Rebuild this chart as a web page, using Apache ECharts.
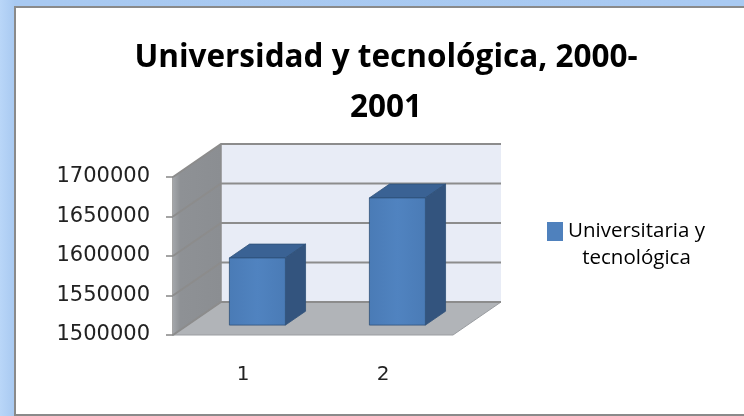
<!DOCTYPE html>
<html>
<head>
<meta charset="utf-8">
<script src="https://cdn.jsdelivr.net/npm/echarts@6/dist/echarts.min.js"></script>
<style>html,body{margin:0;padding:0;background:#fff;}#c{width:744px;height:416px;}</style>
</head>
<body>
<div id="c"></div>
<script>
const categories = ['1', '2'];
const seriesName = 'Universitaria y tecnológica';
const values = [1585000, 1661000];
const yMin = 1500000, yMax = 1700000, yStep = 50000;
const titleText = 'Universidad y tecnológica, 2000-\n2001';

const FONT = 'Open Sans';
const NUMFONT = 'DejaVu Sans';
const DEPTH = [48, -33];
const T1 = 0.3, T2 = 0.72;

const chart = echarts.init(document.getElementById('c'), null, {renderer: 'canvas'});

function renderBack(params, api) {
  const cs = params.coordSys;
  const dx = DEPTH[0], dy = DEPTH[1];
  const x0 = cs.x, x1 = cs.x + cs.width;
  const yb = api.coord([0, yMin])[1], yt = api.coord([0, yMax])[1];
  const children = [];
  children.push({type: 'polygon', shape: {points: [[x0 + dx, yt + dy], [x1 + dx, yt + dy], [x1 + dx, yb + dy], [x0 + dx, yb + dy]]},
    style: {fill: '#e8ecf6', stroke: null}});
  children.push({type: 'polygon', shape: {points: [[x0, yt], [x0 + dx, yt + dy], [x0 + dx, yb + dy], [x0, yb]]},
    style: {fill: new echarts.graphic.LinearGradient(0, 0, 1, 0, [{offset: 0, color: '#a3a6aa'}, {offset: 0.15, color: '#8e9195'}, {offset: 1, color: '#8b8e92'}]), stroke: null}});
  children.push({type: 'polygon', shape: {points: [[x0, yb], [x1, yb], [x1 + dx, yb + dy], [x0 + dx, yb + dy]]},
    style: {fill: '#b1b4b8', stroke: '#9a9da1', lineWidth: 1}});
  for (let v = yMin; v <= yMax; v += yStep) {
    const y = api.coord([0, v])[1];
    children.push({type: 'polyline', shape: {points: [[x0, y], [x0 + dx, y + dy], [x1 + dx, y + dy]]},
      style: {stroke: '#8c8c8c', lineWidth: 2, fill: null}});
  }
  children.push({type: 'line', shape: {x1: x0 + dx, y1: yt + dy, x2: x0 + dx, y2: yb + dy}, style: {stroke: '#8c8c8c', lineWidth: 1.5}});
  return {type: 'group', children: children};
}

function renderBar(params, api) {
  const idx = api.value(0), v = api.value(1);
  const top = api.coord([idx, v]);
  const bot = api.coord([idx, yMin]);
  const bw = api.size([1, 0])[0] * 0.4;
  const ox = DEPTH[0] * T1, oy = DEPTH[1] * T1;
  const ddx = DEPTH[0] * (T2 - T1), ddy = DEPTH[1] * (T2 - T1);
  const xl = top[0] - bw / 2 + ox, xr = top[0] + bw / 2 + ox;
  const yt = top[1] + oy, yb = bot[1] + oy;
  const edge = '#2e5079';
  return {type: 'group', children: [
    {type: 'polygon', shape: {points: [[xl, yt], [xr, yt], [xr + ddx, yt + ddy], [xl + ddx, yt + ddy]]},
      style: {fill: '#3a6294', stroke: edge, lineWidth: 0.8}},
    {type: 'polygon', shape: {points: [[xr, yt], [xr + ddx, yt + ddy], [xr + ddx, yb + ddy], [xr, yb]]},
      style: {fill: '#33547e', stroke: edge, lineWidth: 0.8}},
    {type: 'rect', shape: {x: xl, y: yt, width: bw, height: yb - yt},
      style: {fill: new echarts.graphic.LinearGradient(0, 0, 1, 0, [{offset: 0, color: '#4a7bb6'}, {offset: 0.5, color: '#5083c0'}, {offset: 1, color: '#4a7bb6'}]), stroke: edge, lineWidth: 0.8}}
  ]};
}

chart.setOption({
  animation: false,
  backgroundColor: '#ffffff',
  graphic: [
    {type: 'rect', z: -10, shape: {x: 0, y: 0, width: 744, height: 416},
      style: {fill: new echarts.graphic.LinearGradient(0, 0, 1, 0, [{offset: 0, color: '#b9d6f8'}, {offset: 0.02, color: '#a8c9f1'}, {offset: 1, color: '#a9caf2'}])}},
    {type: 'rect', z: -9, shape: {x: 15, y: 7, width: 740, height: 408},
      style: {fill: '#ffffff', stroke: '#8a8a8a', lineWidth: 2}}
  ],
  title: {
    text: titleText,
    left: 381, top: 28, textAlign: 'center',
    textStyle: {fontFamily: FONT, fontWeight: 'bold', fontSize: 31.5, lineHeight: 50, color: '#000'}
  },
  legend: {
    left: 547, top: 221, padding: 0,
    itemWidth: 16, itemHeight: 19, icon: 'rect',
    data: [seriesName],
    formatter: function () { return '{a|Universitaria y}\n{a|tecnológica}'; },
    textStyle: {padding: [27, 0, 0, 0], rich: {a: {align: 'center', fontFamily: FONT, fontSize: 20.5, lineHeight: 27, color: '#000'}}}
  },
  grid: {left: 173, top: 177, width: 280, height: 158},
  xAxis: {
    type: 'category', data: categories,
    axisLine: {show: false}, axisTick: {show: false}, splitLine: {show: false},
    axisLabel: {margin: 30, fontFamily: NUMFONT, fontSize: 20, color: '#222'}
  },
  yAxis: {
    type: 'value', min: yMin, max: yMax, interval: yStep,
    axisLine: {show: true, lineStyle: {color: '#868686', width: 1.5}},
    axisTick: {show: true, length: 7, lineStyle: {color: '#868686', width: 1.5}},
    splitLine: {show: false},
    axisLabel: {margin: 23, fontFamily: NUMFONT, fontSize: 21, color: '#222', formatter: function (v) { return String(v); }}
  },
  series: [
    {type: 'custom', z: 1, silent: true, clip: false, renderItem: renderBack, data: [[0, yMin]], encode: {x: 0, y: 1}, tooltip: {show: false}},
    {type: 'custom', name: seriesName, z: 2, clip: false, renderItem: renderBar, itemStyle: {color: '#4f81bd'},
      data: values.map((v, i) => [i, v]), encode: {x: 0, y: 1}}
  ]
});
</script>
</body>
</html>
